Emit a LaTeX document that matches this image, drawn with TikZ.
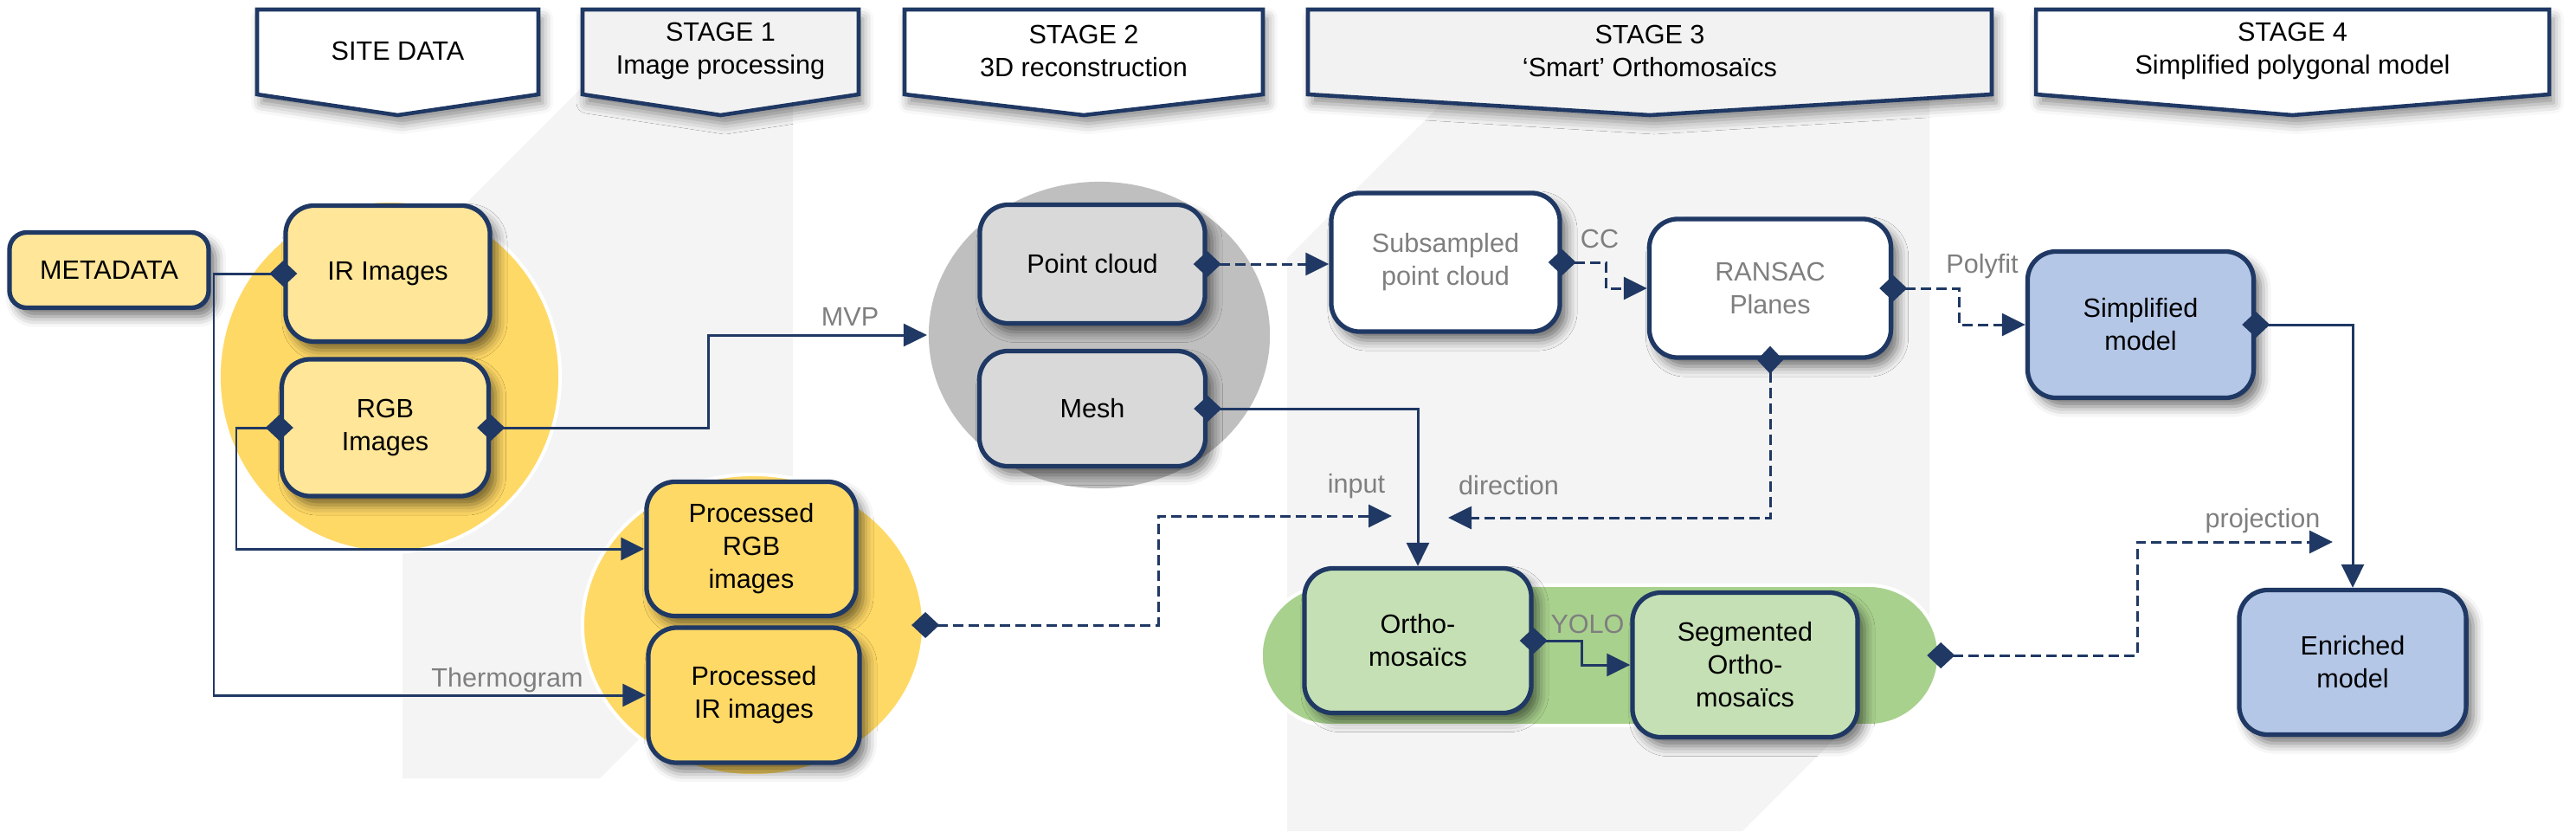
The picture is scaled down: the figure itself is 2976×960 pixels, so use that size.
\documentclass[tikz,border=0pt]{standalone}
\usepackage{fontspec}
\setmainfont{Liberation Sans}
\usetikzlibrary{arrows.meta,shadows.blur,shapes.geometric}
\definecolor{navy}{HTML}{1F3864}
\definecolor{ylight}{HTML}{FFE699}
\definecolor{ydark}{HTML}{FFD966}
\definecolor{gell}{HTML}{BFBFBF}
\definecolor{gbox}{HTML}{D9D9D9}
\definecolor{grbg}{HTML}{A9D18E}
\definecolor{grbox}{HTML}{C5E0B4}
\definecolor{bbox}{HTML}{B4C7E7}
\definecolor{band}{HTML}{F4F4F4}
\definecolor{banfill}{HTML}{F2F2F2}
\definecolor{lbl}{HTML}{7F7F7F}
\newcommand\mybanner[3]{%
  \draw[banner, fill=#3] (#1,11) -- (#2,11) -- (#2,109) -- ({(#1+#2)/2},133) -- (#1,109) -- cycle;}
\begin{document}
\begin{tikzpicture}[x=0.01cm,y=-0.01cm,
  font=\fontsize{8.7pt}{10.8pt}\selectfont,
  box/.style={draw=navy, line width=1.5pt, rounded corners=0.33cm, align=center, inner sep=0pt,
    blur shadow={shadow xshift=0.08cm, shadow yshift=-0.1cm, shadow blur radius=0.12cm, shadow opacity=55}},
  banner/.style={draw=navy, line width=1.3pt,
    blur shadow={shadow xshift=0.05cm, shadow yshift=-0.1cm, shadow blur radius=0.12cm, shadow opacity=45}},
  blob/.style={draw=white, line width=0.04cm, inner sep=0pt},
  conn/.style={draw=navy, line width=0.85pt,
    {Diamond[length=0.32cm,width=0.3cm]}-{Triangle[length=0.27cm,width=0.26cm]}, shorten <=-0.16cm},
  dconn/.style={conn, dash pattern=on 0.12cm off 0.06cm},
  lab/.style={text=lbl, anchor=base, inner sep=0pt},
  btext/.style={align=center, inner sep=0pt}]
\useasboundingbox (0,0) rectangle (2976,960);
% background bands
\fill[band] (673,100) -- (916,100) -- (916,676) -- (693,899) -- (465,899) -- (465,308) -- cycle;
\fill[band] (1685,100) -- (2229,100) -- (2229,744) -- (2013,960) -- (1487,960) -- (1487,298) -- cycle;
% grouping shapes
\node[blob, ellipse, fill=ydark, minimum width=3.94cm, minimum height=4.06cm] (yel1) at (450,435) {};
\node[blob, ellipse, fill=ydark, minimum width=3.94cm, minimum height=3.48cm] (yel2) at (870,722) {};
\node[blob, ellipse, fill=gell, draw=none, minimum width=3.94cm, minimum height=3.54cm] (gel) at (1270,387) {};
\node[blob, rectangle, rounded corners=0.81cm, fill=grbg, minimum width=7.83cm, minimum height=1.62cm] (grn) at (1848.5,757) {};
% banners
\mybanner{297}{622}{white}
\mybanner{673}{992}{banfill}
\mybanner{1045}{1459}{white}
\mybanner{1511}{2301}{banfill}
\mybanner{2352}{2945}{white}
\node[btext] (b0) at (459.5,59) {SITE DATA};
\node[btext] (b1) at (832.5,59) {STAGE 1\\Image processing};
\node[btext] (b2) at (1252,59) {STAGE 2\\3D reconstruction};
\node[btext] (b3) at (1906,59) {STAGE 3\\‘Smart’ Orthomosaïcs};
\node[btext] (b4) at (2648.5,59) {STAGE 4\\Simplified polygonal model};
% boxes
\node[box, rounded corners=0.2cm, fill=ylight, minimum width=2.3cm, minimum height=0.87cm] (meta) at (126,312) {METADATA};
\node[box, fill=ylight, minimum width=2.36cm, minimum height=1.57cm] (ir) at (448,316) {IR Images};
\node[box, fill=ylight, minimum width=2.39cm, minimum height=1.58cm] (rgb) at (445,494) {RGB\\Images};
\node[box, fill=ydark, minimum width=2.42cm, minimum height=1.55cm] (prgb) at (868,634) {Processed\\RGB\\images};
\node[box, fill=ydark, minimum width=2.44cm, minimum height=1.56cm] (pir) at (871,803) {Processed\\IR images};
\node[box, fill=gbox, minimum width=2.60cm, minimum height=1.37cm] (pc) at (1262,305) {Point cloud};
\node[box, fill=gbox, minimum width=2.61cm, minimum height=1.33cm] (mesh) at (1262,472) {Mesh};
\node[box, fill=white, text=lbl, minimum width=2.64cm, minimum height=1.60cm] (sub) at (1670,303) {Subsampled\\point cloud};
\node[box, fill=white, text=lbl, minimum width=2.79cm, minimum height=1.60cm] (ran) at (2045,333) {RANSAC\\Planes};
\node[box, fill=bbox, minimum width=2.61cm, minimum height=1.69cm] (simp) at (2473,375) {Simplified\\model};
\node[box, fill=bbox, minimum width=2.62cm, minimum height=1.67cm] (enr) at (2718,765) {Enriched\\model};
\node[box, fill=grbox, minimum width=2.62cm, minimum height=1.67cm] (orth) at (1638,740) {Ortho-\\mosaïcs};
\node[box, fill=grbox, minimum width=2.60cm, minimum height=1.67cm] (seg) at (2016,768) {Segmented\\Ortho-\\mosaïcs};
% junction coordinates
\coordinate (jx1) at (247,0);
\coordinate (jx2) at (273,0);
\coordinate (jx3) at (818,0);
\coordinate (jx4) at (1855,0);
\coordinate (jx5) at (2263,0);
\coordinate (jx6) at (1338,0);
\coordinate (jx7) at (1827,0);
\coordinate (jx8) at (2469,0);
\coordinate (dirend) at (1673,598);
\coordinate (inend) at (1608,596);
\coordinate (prend) at (2695,626);
% connectors
\draw[conn] (ir.west) -- (ir.west -| jx1) |- (pir.west);
\draw[conn] (rgb.west) -- (rgb.west -| jx2) |- (prgb.west);
\draw[conn] (rgb.east) -- (rgb.east -| jx3) |- (gel.west);
\draw[dconn] (pc.east) -- (pc.east -| sub.west);
\draw[dconn] (sub.east) -- (sub.east -| jx4) |- (ran.west);
\draw[dconn] (ran.east) -- (ran.east -| jx5) |- (simp.west);
\draw[dconn] (ran.south) |- (dirend);
\draw[conn] (mesh.east) -| (orth.north);
\draw[dconn] (yel2.east) -- (yel2.east -| jx6) |- (inend);
\draw[conn] (orth.east) -- (orth.east -| jx7) |- (seg.west);
\draw[dconn] (grn.east) -- (grn.east -| jx8) |- (prend);
\draw[conn] (simp.east) -| (enr.north);
% labels
\node[lab] (lmvp) at (982,376) {MVP};
\node[lab] (lcc) at (1848,286) {CC};
\node[lab] (lpoly) at (2290,315) {Polyfit};
\node[lab] (linp) at (1567,569) {input};
\node[lab] (ldir) at (1743,571) {direction};
\node[lab] (lyolo) at (1834,731) {YOLO};
\node[lab] (lproj) at (2614,609) {projection};
\node[lab] (ltherm) at (586,793) {Thermogram};
\end{tikzpicture}
\end{document}
